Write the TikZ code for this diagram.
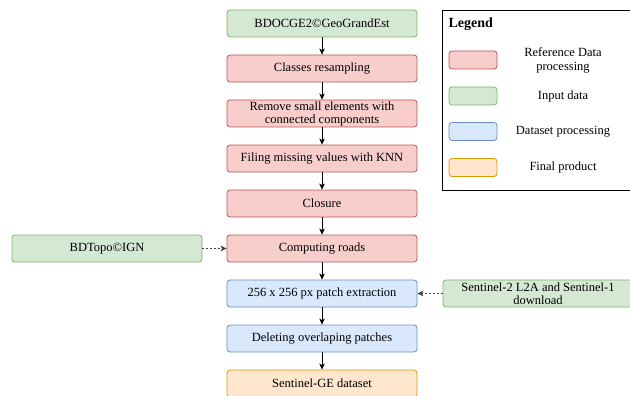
\documentclass[tikz,border=0pt]{standalone}
\usepackage{fontspec}
\setmainfont{Liberation Serif}
\usepackage{tikz}
\usetikzlibrary{arrows,arrows.meta,positioning,calc}
\definecolor{redfill}{HTML}{F8CECC}
\definecolor{redline}{HTML}{B85450}
\definecolor{greenfill}{HTML}{D5E8D4}
\definecolor{greenline}{HTML}{82B366}
\definecolor{bluefill}{HTML}{DAE8FC}
\definecolor{blueline}{HTML}{6C8EBF}
\definecolor{orangefill}{HTML}{FFE6CC}
\definecolor{orangeline}{HTML}{D79B00}
\tikzstyle{box}=[draw,rounded corners=3pt,minimum width=190pt,minimum height=27pt,inner xsep=1pt,inner ysep=-1pt,outer sep=0pt,align=center,line width=0.8pt,font=\fontsize{12.5}{13}\selectfont]
\tikzstyle{refbox}=[box,draw=redline,fill=redfill]
\tikzstyle{inbox}=[box,draw=greenline,fill=greenfill]
\tikzstyle{databox}=[box,draw=blueline,fill=bluefill]
\tikzstyle{finalbox}=[box,draw=orangeline,fill=orangefill]
\tikzstyle{swatch}=[box,minimum width=48pt,minimum height=18pt]
\tikzstyle{flow}=[-{Stealth[length=6pt,width=5.5pt,inset=1.5pt]},line width=0.8pt,shorten >=0.4pt]
\tikzstyle{feed}=[flow,draw=black!75,dash pattern=on 2pt off 2pt]
\tikzstyle{keytext}=[align=center,font=\fontsize{12.5}{14}\selectfont]

\begin{document}
\begin{tikzpicture}[x=1pt,y=-1pt,node distance=18pt]
\clip (0,0) rectangle (630,396);
\useasboundingbox (0,0) rectangle (630,396);
% main chain
\node [inbox] (ocge) at (322,23.5) {BDOCGE2©GeoGrandEst};
\node [refbox, below=of ocge] (resamp) {Classes resampling};
\node [refbox, below=of resamp] (small) {Remove small elements with\\connected components};
\node [refbox, below=of small] (knn) {Filing missing values with KNN};
\node [refbox, below=of knn] (closure) {Closure};
\node [refbox, below=of closure] (roads) {Computing roads};
\node [databox, below=of roads] (patch) {256 x 256 px patch extraction};
\node [databox, below=of patch] (overlap) {Deleting overlaping patches};
\node [finalbox, below=of overlap] (dataset) {Sentinel-GE dataset};
% side inputs
\node [inbox, left=25pt of roads] (topo) {BDTopo©IGN};
\node [inbox, right=26pt of patch] (sentinel) {Sentinel-2 L2A and Sentinel-1\\download};
\foreach \a/\b in {ocge/resamp,resamp/small,small/knn,knn/closure,closure/roads,roads/patch,patch/overlap,overlap/dataset}
  \draw [flow] (\a) -- (\b);
\draw [feed] (topo) -- (roads);
\draw [feed] (sentinel) -- (patch);
% legend
\draw [line width=0.8pt] (442,10) rectangle (640,190);
\node [anchor=west,font=\fontsize{14}{15}\selectfont\bfseries] (legend) at (445,24) {Legend};
\node [swatch,draw=redline,fill=redfill] (keyref) at (473,60) {};
\node [swatch,draw=greenline,fill=greenfill] (keyin) at (473,96) {};
\node [swatch,draw=blueline,fill=bluefill] (keydata) at (473,131.5) {};
\node [swatch,draw=orangeline,fill=orangefill] (keyfinal) at (473,167.5) {};
\node [keytext] at (563,60) {Reference Data\\processing};
\node [keytext] at (563,96) {Input data};
\node [keytext] at (563,131.5) {Dataset processing};
\node [keytext] at (563,167.5) {Final product};
\end{tikzpicture}
\end{document}
